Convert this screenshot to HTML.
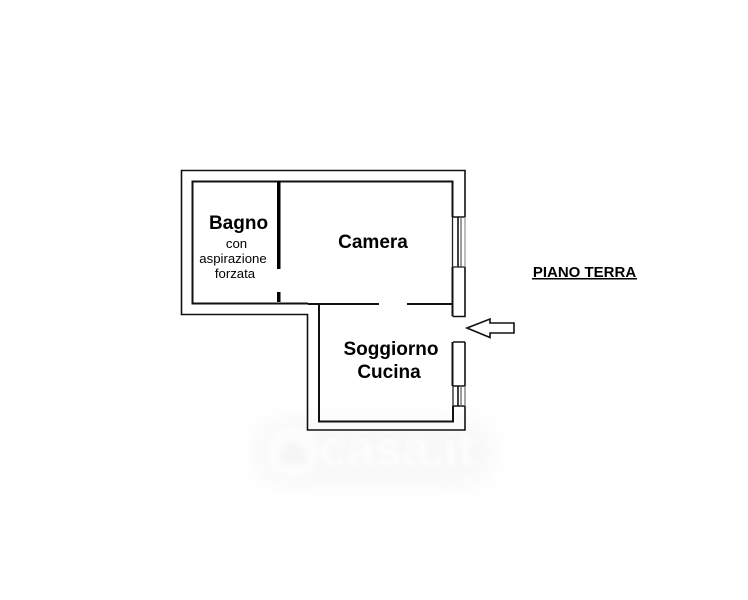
<!DOCTYPE html>
<html>
<head>
<meta charset="utf-8">
<style>
html,body{margin:0;padding:0;background:#fff}
#p{position:relative;width:748px;height:600px;overflow:hidden;background:#fff}
svg{position:absolute;left:0;top:0}
text{font-family:"Liberation Sans",sans-serif;fill:#000;text-anchor:middle}
</style>
</head>
<body>
<div id="p">
<svg width="748" height="600" viewBox="0 0 748 600">
<defs>
<filter id="b" x="-30%" y="-50%" width="160%" height="200%"><feGaussianBlur stdDeviation="12"/></filter>
<filter id="c"><feGaussianBlur stdDeviation="2"/></filter>
</defs>
<!-- watermark -->
<rect x="255" y="418" width="240" height="68" rx="30" fill="#f8f8f8" filter="url(#b)"/>
<g filter="url(#c)">
<circle cx="293" cy="452" r="26" fill="#fcfcfc"/>
<path d="M280 452 L293 440 L306 452 V464 H280 Z" fill="#f6f6f6"/>
<text x="397" y="466" font-size="50" font-weight="bold" style="fill:#fdfdfd">casa.it</text>
</g>
<!-- outer wall -->
<g fill="none" stroke="#111" stroke-width="1.6">
<path d="M465 217 V170.500 H181.500 V314.500 H307.500 V430 H465 V406"/>
<path d="M465 217 H453 M465 267 V316.500 H453 M465 342 V386 M453 342 H465 M453 386 H465 M453 406 H465"/>
</g>
<!-- inner wall -->
<g fill="none" stroke="#111" stroke-width="2">
<path d="M452.500 217 V181.500 H192.500 V303.500 H308"/>
<path d="M452.500 267 V316.500"/>
<path d="M452.500 342 V386 M453 406 V421.500 H319 V304"/>
<path d="M308 304 H379 M407 304 H452"/>
</g>
<!-- windows -->
<g fill="none" stroke="#222" stroke-width="1.300">
<path d="M452.500 217 V267"/>
<path d="M458 217 V267" stroke="#111" stroke-width="1.600"/>
<path d="M461 217 V267" stroke="#666"/>
<path d="M453 267 H465"/>
<path d="M465 217 V267" stroke="#999"/>
<path d="M453 386 V406"/>
<path d="M458 386 V406" stroke="#111" stroke-width="1.600"/>
<path d="M461 386 V406" stroke="#666"/>
<path d="M465 386 V406" stroke="#777"/>
</g>
<!-- divider -->
<rect x="277" y="181" width="3.500" height="88" fill="#000"/>
<rect x="277" y="292" width="3.500" height="10" fill="#000"/>
<!-- arrow -->
<path d="M467 328 L490 319 V323 H514 V333 H490 V337.500 Z" fill="#fff" stroke="#111" stroke-width="1.600"/>
<!-- labels -->
<text x="238.500" y="229" font-size="19" font-weight="bold">Bagno</text>
<text x="236.500" y="248" font-size="13.200">con</text>
<text x="233" y="263" font-size="13.200">aspirazione</text>
<text x="235" y="278" font-size="13.200">forzata</text>
<text x="373" y="248" font-size="19" font-weight="bold">Camera</text>
<text x="391" y="355" font-size="19" font-weight="bold">Soggiorno</text>
<text x="389" y="378" font-size="19" font-weight="bold">Cucina</text>
<text x="584.500" y="277" font-size="15" font-weight="bold">PIANO TERRA</text>
<rect x="532" y="278" width="105" height="1.500" fill="#000"/>
</svg>
</div>
</body>
</html>
